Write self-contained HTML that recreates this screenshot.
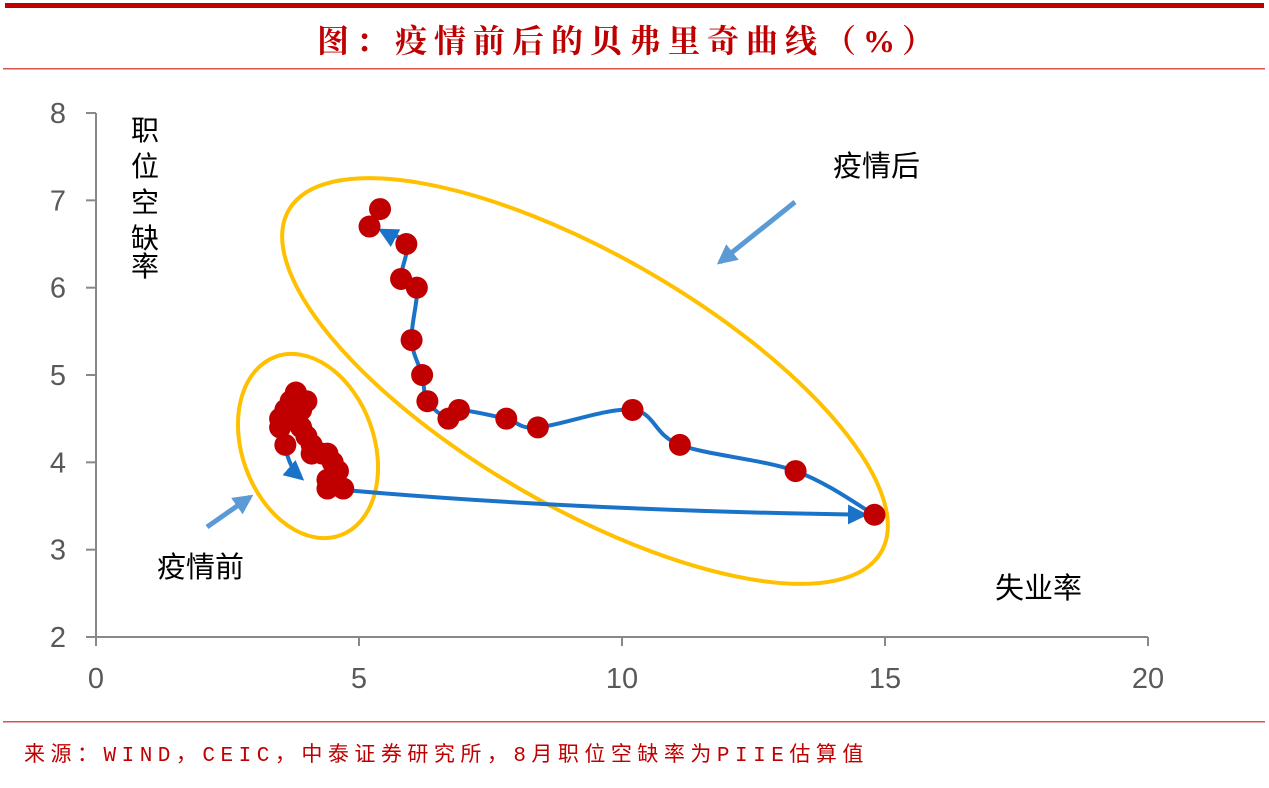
<!DOCTYPE html>
<html><head><meta charset="utf-8"><style>
body{margin:0;background:#fff;width:1269px;height:788px;overflow:hidden}
svg{display:block}
</style></head><body>
<svg width="1269" height="788" xmlns="http://www.w3.org/2000/svg">
<defs>
<marker id="ah" viewBox="0 0 10 10" refX="8" refY="5" markerWidth="5" markerHeight="5" orient="auto"><path d="M0,0L10,5L0,10z" fill="#1a73c8"/></marker>
<marker id="ah2" viewBox="0 0 10 10" refX="8" refY="5" markerWidth="4" markerHeight="4" orient="auto"><path d="M0,0L10,5L0,10z" fill="#5b9bd5"/></marker>
</defs>
<rect x="5" y="3" width="1259" height="5" fill="#c00000"/>
<text x="629" y="52" text-anchor="middle" letter-spacing="7" font-family="'Liberation Serif','Noto Serif CJK SC',serif" font-size="32" font-weight="bold" fill="#c00000">图：疫情前后的贝弗里奇曲线（%）</text>
<rect x="3" y="68" width="1262" height="1.5" fill="#d9534f"/>
<rect x="3" y="721" width="1262" height="1.5" fill="#d9534f"/>
<text x="24" y="761" letter-spacing="5.5" font-family="'Liberation Mono','Noto Sans CJK SC',monospace" font-size="21" fill="#c00000">来源：WIND，CEIC，中泰证券研究所，8月职位空缺率为PIIE估算值</text>
<g id="axes"></g>
<g id="marks"></g>
<text font-family="'Liberation Sans','Noto Sans CJK SC',sans-serif" font-size="28" fill="#000">
<tspan x="131" y="140">职</tspan><tspan x="131" y="176">位</tspan><tspan x="131" y="212">空</tspan><tspan x="131" y="248">缺</tspan><tspan x="131" y="276">率</tspan></text>
<text x="995" y="598" font-family="'Liberation Sans','Noto Sans CJK SC',sans-serif" font-size="29" fill="#000">失业率</text>
<text x="833" y="176" font-family="'Liberation Sans','Noto Sans CJK SC',sans-serif" font-size="29" fill="#000">疫情后</text>
<text x="157" y="577" font-family="'Liberation Sans','Noto Sans CJK SC',sans-serif" font-size="29" fill="#000">疫情前</text>
<line x1="795" y1="202" x2="720" y2="262" stroke="#5b9bd5" stroke-width="5" marker-end="url(#ah2)"/>
<line x1="207" y1="527" x2="250" y2="497" stroke="#5b9bd5" stroke-width="5" marker-end="url(#ah2)"/>
</svg>
<script>
const xTicks=[0,5,10,15,20];
const yTicks=[2,3,4,5,6,7,8];
const preU=[3.8,4.0,3.7,3.6,3.9,3.5,3.7,3.5,3.9,4.0,4.1,4.1,4.3,4.4,4.5,4.6,4.4,4.7,4.4,3.6];
const preV=[4.8,4.7,4.7,4.6,4.6,4.5,4.5,4.4,4.4,4.3,4.2,4.1,4.1,4.1,4.0,3.9,3.8,3.7,3.7,4.2];
const postU=[14.8,13.3,11.1,10.2,8.4,7.8,6.9,6.7,6.3,6.2,6.0,6.1,5.8,5.9,5.2,5.4];
const postV=[3.4,3.9,4.2,4.6,4.4,4.5,4.6,4.5,4.7,5.0,5.4,6.0,6.1,6.5,6.7,6.9];
const X=v=>96+v*52.6, Y=v=>637-(v-2)*87.33;
const NS='http://www.w3.org/2000/svg';
const ax=document.getElementById('axes'), mk=document.getElementById('marks');
function el(t,a,p){const e=document.createElementNS(NS,t);for(const k in a)e.setAttribute(k,a[k]);p.appendChild(e);return e;}
const ya=el('line',{x1:96,y1:Y(8),x2:96,y2:Y(2),stroke:'#888','stroke-width':2},ax);


const xa=el('line',{x1:96,y1:Y(2),x2:X(20),y2:Y(2),stroke:'#888','stroke-width':2},ax);


yTicks.forEach(v=>{
 const t=el('line',{x1:86,y1:Y(v),x2:96,y2:Y(v),stroke:'#888','stroke-width':2},ax);
 
 
 const l=el('text',{x:66,y:Y(v)+10,'text-anchor':'end','font-family':'Liberation Sans,sans-serif','font-size':29,fill:'#595959'},ax);
 l.textContent=v;
 
 
});
xTicks.forEach(v=>{
 const t=el('line',{x1:X(v),y1:Y(2),x2:X(v),y2:Y(2)+9,stroke:'#888','stroke-width':2},ax);
 
 
 const l=el('text',{x:X(v),y:688,'text-anchor':'middle','font-family':'Liberation Sans,sans-serif','font-size':29,fill:'#595959'},ax);
 l.textContent=v;
 
 
});
const e1=el('ellipse',{cx:308,cy:446,rx:66,ry:95,transform:'rotate(-20 308 446)',fill:'none',stroke:'#ffc000','stroke-width':4},mk);


const e2=el('ellipse',{cx:585,cy:381,rx:342,ry:126,transform:'rotate(30 585 381)',fill:'none',stroke:'#ffc000','stroke-width':4},mk);


const p1=el('path',{d:`M${X(3.6)},${Y(4.2)} Q${X(3.65)},${Y(3.95)} ${X(3.9)},${Y(3.82)}`,stroke:'#1a73c8','stroke-width':4,fill:'none','marker-end':'url(#ah)'},mk);


const p2=el('path',{d:`M${X(4.4)},${Y(3.7)} Q${X(9)},${Y(3.45)} ${X(14.6)},${Y(3.4)}`,stroke:'#1a73c8','stroke-width':4,fill:'none','marker-end':'url(#ah)'},mk);


const n=postU.length;
const pts=postU.slice(0,n-1).map((u,i)=>[X(u),Y(postV[i])]);
pts[n-2]=[pts[n-2][0]+12,pts[n-2][1]+4];
let d='M'+pts[0][0]+','+pts[0][1];
for(let i=0;i<pts.length-1;i++){
 const p0=pts[Math.max(0,i-1)],p1_=pts[i],p2_=pts[i+1],p3=pts[Math.min(pts.length-1,i+2)];
 const c1=[p1_[0]+(p2_[0]-p0[0])/6,p1_[1]+(p2_[1]-p0[1])/6];
 const c2=[p2_[0]-(p3[0]-p1_[0])/6,p2_[1]-(p3[1]-p1_[1])/6];
 d+=` C${c1[0]},${c1[1]} ${c2[0]},${c2[1]} ${p2_[0]},${p2_[1]}`;
}
const p3e=el('path',{d:d,stroke:'#1a73c8','stroke-width':4,fill:'none','stroke-linejoin':'round','marker-end':'url(#ah)'},mk);


preU.forEach((u,i)=>{
 const c=el('circle',{cx:X(u),cy:Y(preV[i]),r:11,fill:'#c00000'},mk);
 
 
});
postU.forEach((u,i)=>{
 const c=el('circle',{cx:X(u),cy:Y(postV[i]),r:11,fill:'#c00000'},mk);
 
 
});
</script>
</body></html>
